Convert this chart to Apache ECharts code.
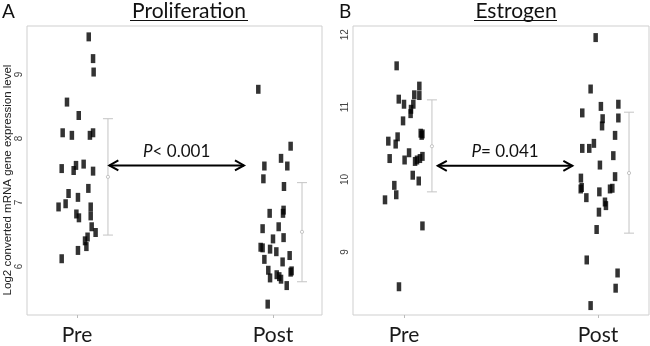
<!DOCTYPE html>
<html><head><meta charset="utf-8">
<script src="https://cdn.jsdelivr.net/npm/echarts@6/dist/echarts.min.js"></script>
<style>html,body{margin:0;padding:0;background:#fff}#c{width:650px;height:346px}</style>
</head><body><div id="c"></div>
<script>
// ---------- data ----------
const categories = ['Pre', 'Post'];
const panelTitles = ['Proliferation', 'Estrogen'];
const panelLetters = ['A', 'B'];
const yLabel = 'Log2 converted mRNA gene expression level';
const yTicksA = [6, 7, 8, 9];
const yTicksB = [9, 10, 11, 12];

// Panel A (Proliferation)
const aPreValues = [9.59,9.25,9.04,8.57,8.36,8.09,8.05,8.05,8.09,7.53,7.50,7.58,7.60,7.49,7.22,7.14,7.08,6.93,6.98,6.93,6.82,6.76,6.79,6.62,6.53,6.46,6.40,6.31,6.25,6.12];
const aPreJitter = [0.060,0.082,0.085,-0.051,0.009,-0.073,-0.026,0.066,0.082,-0.078,-0.017,-0.005,0.034,0.082,0.058,-0.043,0.005,-0.094,-0.058,0.070,-0.003,0.010,0.070,0.075,0.095,0.054,0.041,0.048,0.005,-0.078];
const aPostValues = [8.77,7.88,7.69,7.57,7.57,7.37,7.25,6.88,6.83,6.83,6.59,6.62,6.43,6.45,6.30,6.29,6.27,6.23,6.17,6.11,6.07,5.94,5.82,5.87,5.84,5.80,5.91,5.93,5.70,5.41];
const aPostJitter = [-0.075,0.090,0.041,0.073,-0.044,-0.049,0.056,0.054,0.051,-0.017,-0.053,0.029,0.000,0.054,-0.063,-0.053,-0.015,0.017,0.085,-0.044,0.049,-0.024,-0.015,0.019,0.032,0.041,0.090,0.095,0.070,-0.027];
// error bars: [x, low, high, mean]
const aErrorBars = [[1.158, 6.49, 8.31, 7.40], [2.148, 5.76, 7.31, 6.54]];
// significance arrow: [xFrom, xTo, y]
const aArrow = [1.160, 1.857, 7.58];
const aPText = ['P', '< 0.001'];

// Panel B (Estrogen)
const bPreValues = [11.57,11.29,11.16,11.17,11.11,11.04,11.04,10.97,10.91,10.81,10.64,10.61,10.63,10.59,10.53,10.49,10.37,10.29,10.27,10.25,10.27,10.29,10.32,10.06,9.98,9.92,9.79,9.72,9.36,8.52];
const bPreJitter = [-0.038,0.079,0.079,0.053,-0.027,0.000,0.048,0.036,0.034,-0.005,0.086,0.091,0.095,-0.033,-0.081,-0.043,0.026,-0.074,0.003,0.057,0.067,0.082,0.095,0.045,0.076,-0.050,-0.040,-0.098,0.095,-0.026];
const bPostValues = [11.96,11.25,10.92,11.01,11.04,10.84,10.74,10.85,10.61,10.50,10.43,10.43,10.33,10.20,10.04,10.02,9.87,9.89,9.75,9.83,9.87,9.88,9.64,9.69,9.55,9.31,8.89,8.71,8.50,8.26];
const bPostJitter = [-0.012,-0.038,-0.081,0.015,0.105,0.024,0.021,0.105,0.088,-0.021,-0.045,-0.081,0.079,0.010,0.088,-0.088,-0.089,-0.084,-0.060,0.007,0.062,0.074,0.041,0.036,0.005,-0.007,-0.058,0.101,0.091,-0.038];
const bErrorBars = [[1.144, 9.83, 11.10, 10.46], [2.160, 9.26, 10.93, 10.09]];
const bArrow = [1.169, 1.873, 10.19];
const bPText = ['P', '= 0.041'];

// ---------- chart ----------
const chart = echarts.init(document.getElementById('c'), null, {renderer: 'canvas'});
const FONT = 'Lato';
const pts = (vals, jit, base) => vals.map((v, i) => [base + jit[i], v]);

function xAxisCfg(gi, min, max) {
  return {
    type: 'value', gridIndex: gi, min: min, max: max,
    axisLine: {show: false}, splitLine: {show: false},
    axisTick: {show: true, customValues: [1, 2], length: 3, lineStyle: {color: '#bbb'}},
    axisLabel: {customValues: [1, 2], formatter: v => categories[Math.round(v) - 1] || '',
      fontFamily: FONT, fontSize: 21, color: '#1a1a1a', margin: 10}
  };
}
function yAxisCfg(gi, min, max, ticks) {
  return {
    type: 'value', gridIndex: gi, min: min, max: max,
    axisLine: {show: false}, splitLine: {show: false}, axisTick: {show: false},
    axisLabel: {customValues: ticks, rotate: 90, fontFamily: 'Liberation Sans', fontSize: 10,
      color: '#444', margin: 3}
  };
}
function scatter(gi, data) {
  return {type: 'scatter', xAxisIndex: gi, yAxisIndex: gi, data: data, symbol: 'rect',
    symbolSize: [4.5, 9], itemStyle: {color: '#000'}, silent: true, z: 3};
}
function errorSeries(gi, data) {
  return {
    type: 'custom', xAxisIndex: gi, yAxisIndex: gi, data: data, silent: true, z: 2,
    encode: {x: 0, y: [1, 2]},
    renderItem: function (params, api) {
      const x = api.value(0);
      const hi = api.coord([x, api.value(2)]);
      const lo = api.coord([x, api.value(1)]);
      const m = api.coord([x, api.value(3)]);
      const st = {stroke: '#c4c4c4', lineWidth: 1, fill: null};
      return {type: 'group', children: [
        {type: 'line', shape: {x1: hi[0], y1: hi[1], x2: lo[0], y2: lo[1]}, style: st},
        {type: 'line', shape: {x1: hi[0] - 5, y1: hi[1], x2: hi[0] + 5, y2: hi[1]}, style: st},
        {type: 'line', shape: {x1: lo[0] - 5, y1: lo[1], x2: lo[0] + 5, y2: lo[1]}, style: st},
        {type: 'circle', shape: {cx: m[0], cy: m[1], r: 1.6}, style: {stroke: '#c4c4c4', fill: '#fff', lineWidth: 1}}
      ]};
    }
  };
}
function arrowSeries(gi, arrow, ptext) {
  return {
    type: 'custom', xAxisIndex: gi, yAxisIndex: gi, data: [arrow], silent: true, z: 4,
    encode: {x: [0, 1], y: 2},
    renderItem: function (params, api) {
      const a = api.coord([api.value(0), api.value(2)]);
      const b = api.coord([api.value(1), api.value(2)]);
      const st = {stroke: '#000', lineWidth: 2, fill: null, lineJoin: 'miter'};
      const h = 10, w = 5;
      return {type: 'group', children: [
        {type: 'line', shape: {x1: a[0] + 1, y1: a[1], x2: b[0] - 1, y2: b[1]}, style: st},
        {type: 'polyline', shape: {points: [[a[0] + h, a[1] - w], [a[0] + 1, a[1]], [a[0] + h, a[1] + w]]}, style: st},
        {type: 'polyline', shape: {points: [[b[0] - h, b[1] - w], [b[0] - 1, b[1]], [b[0] - h, b[1] + w]]}, style: st},
        {type: 'text', x: (a[0] + b[0]) / 2, y: a[1] - 14,
          style: {text: '{i|' + ptext[0] + '}' + ptext[1], align: 'center', verticalAlign: 'middle',
            fontFamily: FONT, fontSize: 17, fill: '#111',
            rich: {i: {fontStyle: 'italic', fontFamily: FONT, fontSize: 17, fill: '#111'}}}}
      ]};
    }
  };
}

const option = {
  animation: false,
  backgroundColor: '#fff',
  grid: [
    {left: 27, top: 26, width: 295, height: 297, show: true, borderColor: '#cfcfcf', borderWidth: 1, backgroundColor: 'transparent'},
    {left: 353, top: 26, width: 296, height: 297, show: true, borderColor: '#cfcfcf', borderWidth: 1, backgroundColor: 'transparent'}
  ],
  xAxis: [xAxisCfg(0, 0.745, 2.25), xAxisCfg(1, 0.737, 2.263)],
  yAxis: [yAxisCfg(0, 5.24, 9.76, yTicksA), yAxisCfg(1, 8.13, 12.12, yTicksB)],
  series: [
    scatter(0, pts(aPreValues, aPreJitter, 1)),
    scatter(0, pts(aPostValues, aPostJitter, 2)),
    errorSeries(0, aErrorBars),
    arrowSeries(0, aArrow, aPText),
    scatter(1, pts(bPreValues, bPreJitter, 1)),
    scatter(1, pts(bPostValues, bPostJitter, 2)),
    errorSeries(1, bErrorBars),
    arrowSeries(1, bArrow, bPText)
  ],
  graphic: [
    {type: 'text', x: 2, y: 2, style: {text: panelLetters[0], fontFamily: FONT, fontSize: 19, fill: '#111'}},
    {type: 'text', x: 339, y: 2, style: {text: panelLetters[1], fontFamily: FONT, fontSize: 19, fill: '#111'}},
    {type: 'text', x: 189, y: 11, style: {text: panelTitles[0], align: 'center', verticalAlign: 'middle', fontFamily: FONT, fontSize: 21, fill: '#111'}},
    {type: 'line', shape: {x1: 130, y1: 20.5, x2: 248, y2: 20.5}, style: {stroke: '#111', lineWidth: 1.2}},
    {type: 'text', x: 516, y: 11, style: {text: panelTitles[1], align: 'center', verticalAlign: 'middle', fontFamily: FONT, fontSize: 21, fill: '#111'}},
    {type: 'line', shape: {x1: 474, y1: 20.5, x2: 557, y2: 20.5}, style: {stroke: '#111', lineWidth: 1.2}},
    {type: 'text', x: 8, y: 180, rotation: Math.PI / 2,
      style: {text: yLabel, align: 'center', verticalAlign: 'middle', fontFamily: 'Liberation Sans', fontSize: 11.5, fill: '#222'}}
  ]
};
chart.setOption(option);
</script></body></html>
